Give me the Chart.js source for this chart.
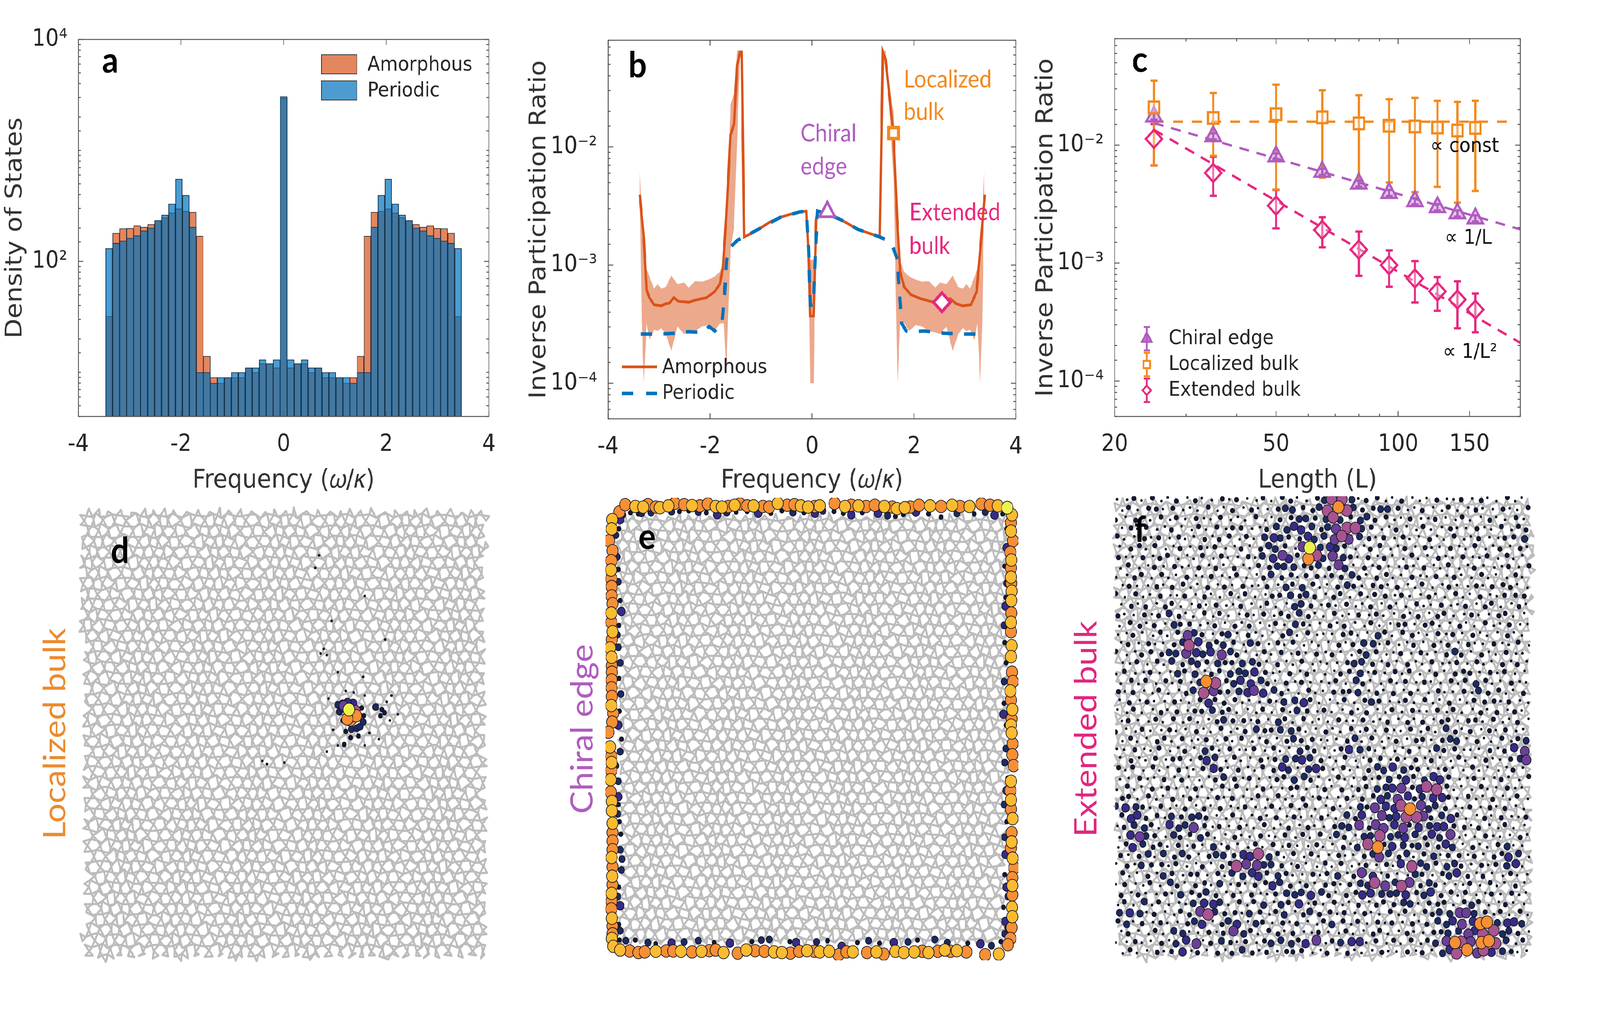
<!DOCTYPE html>
<html>
<head>
<meta charset="utf-8">
<style>
  html, body { margin: 0; background: #fff; overflow: hidden; }
  #sheet { position: absolute; left: 0; top: 0; width: 4533px; height: 2644px; transform-origin: 0 0; }
  canvas { position: absolute; }
</style>
<script src="https://cdn.jsdelivr.net/npm/chart.js@4/dist/chart.umd.js"></script>
</head>
<body>
<div id="sheet">
<canvas id="pa"></canvas><canvas id="pb"></canvas><canvas id="pc"></canvas>
<canvas id="pd"></canvas><canvas id="pe"></canvas><canvas id="pf"></canvas>
</div>
<script>
// the browser window can come out narrower than the 4533 px layout, keep the whole sheet in view
document.getElementById('sheet').style.transform = 'scaleX(' + Math.min(1, window.innerWidth / 4533) + ')';

// panel a: histogram
var binCenters = [-3.4,-3.264,-3.128,-2.992,-2.856,-2.72,-2.584,-2.448,-2.312,-2.176,-2.04,-1.904,-1.768,-1.632,-1.496,-1.36,-1.224,-1.088,-0.952,-0.816,-0.68,-0.544,-0.408,-0.272,-0.136,0,0.136,0.272,0.408,0.544,0.68,0.816,0.952,1.088,1.224,1.36,1.496,1.632,1.768,1.904,2.04,2.176,2.312,2.448,2.584,2.72,2.856,2.992,3.128,3.264,3.4];
var amorphousCounts = [32,180,198,199,210,204,216,234,249,274,298,283,278,169,14,9,8,9,9,9,11,10,12,12,11,2960,11,12,12,10,11,9,9,9,8,9,14,169,278,283,298,274,249,234,216,204,210,199,198,180,32];
var periodicCounts = [131,146,153,162,171,189,200,234,262,330,552,395,204,10,10,8,9,9,10,10,11,11,13,12,13,3055,13,12,13,11,11,10,10,9,9,8,10,10,204,395,552,330,262,234,200,189,171,162,153,146,131];

// panel b
var amorphFreq = [-3.38,-3.30,-3.245,-3.19,-3.10,-2.96,-2.87,-2.80,-2.71,-2.62,-2.51,-2.42,-2.29,-2.16,-2.07,-1.91,-1.81,-1.75,-1.68,-1.60,-1.53,-1.47,-1.41,-1.38,-1.33,-1.20,-1.01,-0.82,-0.62,-0.43,-0.24,-0.11,-0.06,-0.035,0.035,0.08,0.11,0.336,0.59,0.91,1.33,1.39,1.445,1.52,1.60,1.67,1.73,1.81,1.94,2.13,2.39,2.55,2.71,2.83,2.96,3.12,3.23,3.30,3.39];
var amorphIpr = [.00395,.00168,.000614,.00053,.000462,.000452,.000471,.000476,.00053,.000493,.00049,.000485,.000505,.00052,.00053,.000596,.00069,.00093,.00269,.01253,.0156,.0488,.0637,.0637,.00173,.00185,.00206,.00232,.00254,.00269,.00282,.00286,.00104,.000371,.000371,.00239,.00286,.00269,.00239,.002,.00173,.0637,.0548,.027,.01253,.00254,.000875,.000652,.000562,.00052,.000485,.000485,.00052,.000471,.000452,.000462,.000596,.00132,.00395];
var bandFreq = [-3.38,-3.34,-3.30,-3.245,-3.19,-3.10,-3.03,-2.96,-2.87,-2.76,-2.64,-2.51,-2.42,-2.29,-2.16,-2.03,-1.91,-1.81,-1.73,-1.68,-1.65,-1.60,-1.53,-1.47,-1.41,-1.38,-1.33,-1.20,-1.01,-0.82,-0.62,-0.43,-0.24,-0.11,-0.07,-0.035,0.035,0.07,0.11,0.336,0.59,0.91,1.33,1.39,1.445,1.52,1.60,1.68,1.73,1.81,1.91,2.03,2.16,2.29,2.42,2.51,2.64,2.76,2.87,2.96,3.03,3.10,3.19,3.245,3.30,3.34,3.38];
var bandHigh = [.00634,.00269,.00132,.00093,.0008,.000632,.00069,.000632,.000652,.000815,.00069,.000711,.000644,.000733,.000724,.000755,.0008,.000875,.00108,.00269,.00616,.0226,.0286,.0655,.0655,.0637,.00173,.00188,.00209,.00235,.00257,.00272,.00286,.00289,.00111,.00111,.00111,.00239,.00289,.00272,.00242,.00203,.00175,.0644,.0655,.0304,.0201,.00269,.00108,.000875,.0008,.000755,.000724,.000733,.000644,.000711,.00069,.000815,.000652,.000632,.00069,.000632,.0008,.00093,.00132,.00269,.00634];
var bandLow = [.00395,.000321,.000101,.000321,.000232,.000284,.000277,.000293,.000261,.000188,.000302,.000261,.000269,.000277,.000302,.000311,.000277,.000321,.000321,.000121,.000321,.00132,.00212,.0111,.0637,.0637,.00171,.00183,.00204,.0023,.00251,.00266,.00279,.00282,.00104,.0001,.0001,.00239,.00282,.00266,.00237,.00198,.00171,.0637,.0548,.0201,.00547,.000101,.000321,.000321,.000277,.000311,.000302,.000277,.000269,.000261,.000302,.000188,.000261,.000293,.000277,.000284,.000232,.000321,.000101,.000321,.00395];
var periodicFreq = [-3.36,-2.995,-2.675,-2.42,-2.16,-2.02,-1.905,-1.765,-1.715,-1.675,-1.585,-1.457,-1.33,-1.01,-0.62,-0.24,-0.11,-0.07,-0.03,0.03,0.07,0.11,0.336,0.59,0.91,1.33,1.457,1.585,1.675,1.714,1.76,1.85,1.97,2.2,2.6,3.0,3.35];
var periodicIpr = [.000261,.000261,.000265,.000273,.000269,.000302,.000277,.000321,.000578,.00111,.00144,.00163,.00173,.00206,.00254,.00282,.00286,.00141,.000458,.000458,.00141,.00286,.00269,.00239,.002,.00173,.00163,.00144,.00111,.000578,.000321,.000277,.000273,.000277,.000265,.000261,.000261];
var pickFreq = [0.30, 1.60, 2.55];
var pickIpr = [.00282, .0131, .000485];

// panel c
var lengths = [25,35,50,65,80,95,110,125,140,155];
var chiralIpr = [.0175,.0119,.00803,.00594,.00472,.00393,.00335,.00298,.00264,.00239];
var chiralLow = [.0165,.0112,.0076,.0056,.00445,.0037,.00315,.0028,.00248,.00225];
var chiralHigh = [.0186,.0126,.0085,.0063,.005,.00417,.00355,.00316,.0028,.00254];
var localizedIpr = [.0209,.017,.0183,.0172,.0153,.0146,.0144,.0141,.0133,.014];
var localizedLow = [.00673,.00813,.0042,.0053,.00445,.00483,.004,.00443,.00325,.00409];
var localizedHigh = [.0352,.0277,.0326,.0292,.0265,.0245,.0252,.0238,.0233,.0238];
var extendedIpr = [.0113,.00581,.00307,.00191,.0013,.00096,.00074,.000575,.00049,.000403];
var extendedLow = [.00673,.00372,.00197,.00136,.00078,.00063,.000463,.000394,.00028,.000259];
var extendedHigh = [.0151,.00798,.00417,.00245,.00185,.00128,.00104,.00076,.0007,.000552];
var fitLengths = [25, 200];
var fitConst = [.0158, .0158];
var fitConstLengths = [25, 190];
var fitInverse = [.0154, .00193];
var fitInverseSquare = [.0135, .000211];

var freqTicks = [-4, -2, 0, 2, 4];
var dosTicks = [100, 10000];
var dosTickLabels = ['10²', '10⁴'];
var iprTicks = [1e-4, 1e-3, 1e-2];
var iprTickLabels = ['10⁻⁴', '10⁻³', '10⁻²'];
var lengthTicks = [20,30,40,50,60,70,80,90,100,150,200];
var lengthTickLabels = ['20','','','50','','','','','100','150',''];

// panel d: visible sites around the localized state
var dX = [995,1000,1018,990,1015,978,1008,990,975,960,965,972,975,985,1003,1020,1030,1042,1040,1035,1080,1095,1108,1100,980,1000,1025,915,925,905,900,888,940,1045,1110,960,1040,985,1010,1045,1130,930,1115,1150,1125,945,1060,1090,960,1045,925,735,790,720];
var dY = [685,718,705,715,690,672,665,662,665,670,692,682,720,755,748,745,740,705,725,680,677,705,695,685,797,775,770,490,510,505,190,230,400,320,460,565,580,625,630,640,640,650,660,700,720,750,760,780,800,800,820,860,855,850];
var dAmp = [8,6,6,6,5,4,3,3,2,2,2,2,1,1,2,2,2,1,2,1,2,1,1,1,1,1,1,0,0,0,0,0,0,0,0,0,0,0,0,0,0,0,0,0,0,0,0,0,0,0,0,0,0,0];

// panel e: sites along the boundary
var eTopX = [230,248,280,305,320,345,358,385,405,435,460,485,510,535,555,575,595,612,635,655,685,705,732,762,785,805,828,850,865,912,945,965,988,1012,1040,1070,1095,1110,1135,1152,1180,1215,1250,1285,1310,1340,1378,1405,1430,1460];
var eTopY = [75,52,58,60,52,60,62,56,48,52,55,56,50,58,60,58,54,50,56,56,58,60,48,54,52,56,60,58,56,48,58,54,56,58,54,58,60,65,62,60,54,56,58,54,58,58,50,54,56,62];
var eTopAmp = '66776677667667767667667667767676766767766767676678';
var eLeftY = [100,130,168,200,232,262,290,315,345,370,400,430,460,485,512,542,570,590,615,640,668,697,722,750,783,830,860,880,905,935,975,1005,1035,1075,1105,1132,1160,1185,1215,1245,1272,1300,1325,1350,1380,1405,1430,1445,1470];
var eLeftX = [207,205,197,208,204,203,204,205,205,208,204,204,208,206,200,205,206,206,205,205,206,204,210,207,195,200,204,205,204,202,202,206,206,208,208,208,208,205,208,207,208,205,205,204,206,208,208,206,210];
var eLeftAmp = '7766676666767677666667666767676777666767676676677';
var eRightY = [85,110,137,168,205,230,255,285,305,330,360,400,430,460,505,540,590,620,650,680,710,740,760,785,820,855,890,940,970,1000,1030,1060,1105,1135,1155,1187,1218,1250,1275,1305,1345,1375,1410,1445,1465];
var eRightX = [1475,1472,1472,1478,1470,1473,1472,1472,1473,1474,1473,1473,1472,1472,1474,1472,1475,1478,1470,1472,1476,1474,1472,1474,1477,1476,1480,1472,1470,1472,1472,1477,1474,1474,1472,1477,1482,1476,1476,1476,1475,1476,1474,1470,1462];
var eRightAmp = '767667676776767766767677666767676767667677666';
var eBottomX = [232,262,290,310,345,378,400,425,460,490,515,535,560,605,632,660,690,720,745,772,800,825,848,865,895,925,950,970,1015,1045,1068,1105,1132,1165,1190,1210,1240,1262,1280,1300,1330,1390,1433];
var eBottomY = [1482,1485,1490,1488,1486,1485,1485,1486,1488,1486,1484,1482,1490,1492,1482,1484,1486,1488,1490,1492,1486,1484,1486,1488,1486,1497,1488,1488,1490,1488,1495,1486,1490,1488,1486,1490,1486,1482,1486,1484,1488,1497,1495];
var eBottomAmp = '7666766767667676677667677667676777676767667';
var eRingTopX = [240,265,290,300,330,365,395,420,450,480,505,540,570,600,635,670,710,745,780,815,850,875,910,940,965,1000,1050,1080,1105,1130,1170,1210,1250,1300,1355,1390,1420,1445];
var eRingTopY = [85,78,82,80,78,72,75,74,72,76,78,85,78,76,74,80,80,72,78,78,80,72,74,80,85,78,80,88,90,84,76,82,92,80,82,76,86,82];
var eRingTopAmp = '21122121121321131121321131321131121231';
var eRingLeftX = [232,228,218,222,226,226,232,236,228,222,226,232,228,234,230,226,236,232,218,226,226,226,224,230,234,232,238,236,228,224,232,228,232,230];
var eRingLeftY = [100,130,150,220,260,300,360,395,440,470,510,560,610,660,715,760,805,845,890,940,990,1015,1045,1070,1110,1160,1190,1225,1280,1310,1340,1400,1420,1450];
var eRingLeftAmp = '3122121312221213122231211222123121';
var eRingRightX = [1458,1458,1452,1458,1455,1455,1450,1452,1456,1450,1450,1448,1456,1456,1452,1462,1458,1450,1458,1452,1455,1452,1458,1462,1448,1454,1458,1452];
var eRingRightY = [130,190,250,305,350,378,440,495,560,620,690,725,760,835,880,930,970,1015,1070,1120,1175,1240,1280,1310,1345,1390,1410,1430];
var eRingRightAmp = '1312132112131221321231321312';
var eRingBottomX = [250,280,320,345,395,435,480,530,580,650,680,705,770,790,855,890,935,985,1020,1055,1100,1145,1175,1230,1270,1335,1375,1410,1440];
var eRingBottomY = [1452,1450,1458,1462,1460,1456,1452,1458,1460,1455,1450,1448,1455,1458,1456,1452,1470,1458,1452,1460,1458,1456,1450,1448,1458,1460,1462,1468,1455];
var eRingBottomAmp = '21213221312213213121321221321';

// panel f: site amplitude read on a 48 x 48 grid of the picture, 0 smallest, 8 brightest
var fAmplitude = [
'001010010100101001011001255201100100010010100100',
'010110100010010100122112565211221001001001001001',
'101001010100100010011221252122110010010010010010',
'010100100101011001223321245521001001001001001011',
'100101010010110102321132245421010100100100100112',
'011010010101001012210482321001100101001001001010',
'100101100010100102343165242101010010010010010100',
'010010100101010011222112142010100101001001000101',
'001101001001001001211011011210110010010100100010',
'010010110010101001021210012101101001001001011100',
'101001001010010100112121011010110100100100100111',
'010101100101001001002210101001010010010010110010',
'100101210010100101011210010010100101011001001100',
'011010211001010100102100101001001101100100100100',
'001001014210120100012010001100210110010101000100',
'010100125321210210101000010122010010101010010010',
'100111224323421001010101010012100101001210100100',
'001010212212112210100100001221010100100101001010',
'010010021201122231001010001120101010010111010100',
'010101010265123321010100010210010101001012100100',
'101001001254112343210010011120101010010010211001',
'010100100131110001022310001012100101001001110100',
'001001010112110001010210100101001010010100101010',
'010010101001211010210100010010010101011011010010',
'100100100100100121122100100101010010102101010100',
'010011010010101001012110001201001011012201001012',
'001001001021010010100211001321000010021100010134',
'010010110132010010122321001001101010100100100124',
'101010010013101001132023101001223211001001000010',
'001001010001210100112210010010121312331001001001',
'010010100100101001001100101011223413551000100100',
'110100101001010010100101001011324312331010010010',
'232101001010100100101010010021433564221001010100',
'133110212210010010101001002130423554123100101001',
'012210322410101001001010012241443413233110100100',
'034210211210010010010101021022522321324000100010',
'013211010102010010101001001025613212113201001200',
'101202121012213352101010010012421201201101011320',
'010211010010115442210100101001010352212210101230',
'100102101101022331210010120143010021012310100100',
'010010210110201011321010110122542541210001010010',
'101001021121010100122232101133222312311010010100',
'010201000233201012021301010010111220111012100100',
'232010011452110210120121101010010101122442101010',
'120101001230123021010100121010101010122343662332',
'010010220010142101101001001001100100112243552210',
'001001023401210101222134012330101010124654665201',
'010010130101012101011100101000100101023564532100'
];

var inkByAmp = ['#0b1026','#101a3a','#1d2a63','#352c88','#6a3f98','#a85490','#f78f35','#fbbb30','#eef04c'];
var sizeByAmp = [3.5,6,9,11,13,15,16,16,16.5];

function pairs(xs, ys) { return xs.map(function (x, i) { return { x: x, y: ys[i] }; }); }

function sites(xs, ys, amps) {
  return xs.map(function (x, i) {
    return { x: x, y: ys[i], a: Number(typeof amps === 'string' ? amps.charAt(i) : amps[i]) || 0 };
  });
}

function gridSites(rows) {
  var out = [];
  rows.forEach(function (row, r) {
    for (var c = 0; c < row.length; c++) {
      // cell centres, staggered so the grid does not read as rows
      var x = 180 + 27 * c + (r % 2) * 13 + 5 * Math.sin(c * 1.7 + r * 2.3);
      var y = 35 + 31 * r + 6 * Math.sin(c * 2.9 + r * 1.1);
      out.push({ x: x, y: y, a: Number(row.charAt(c)) });
    }
  });
  return out;
}

function place(id, left, top, w, h) {
  var el = document.getElementById(id);
  el.width = w; el.height = h;
  el.style.left = left + 'px'; el.style.top = top + 'px';
  el.style.width = w + 'px'; el.style.height = h + 'px';
  return el;
}

function forceWidth(w) { return function (s) { s.width = w; }; }
function forceHeight(h) { return function (s) { s.height = h; }; }

function tickText(list, labels) {
  return function (v) {
    for (var i = 0; i < list.length; i++) {
      if (Math.abs(v - list[i]) <= Math.abs(list[i]) * 1e-6) return labels[i];
    }
    return '';
  };
}

var inkAxis = '#262626';
var tickFont = { family: 'DejaVu Sans', size: 60 };
var titleFont = { family: 'DejaVu Sans', size: 66 };

// Box with inward ticks on all four sides
function framePlugin(xMajors, yMajors) {
  return {
    id: 'frame',
    afterDatasetsDraw: function (chart) {
      var c = chart.ctx, a = chart.chartArea, sx = chart.scales.x, sy = chart.scales.y;
      c.save();
      c.strokeStyle = '#555';
      c.lineWidth = 2.5;
      c.strokeRect(a.left, a.top, a.right - a.left, a.bottom - a.top);
      sx.ticks.forEach(function (t) {
        var px = sx.getPixelForValue(t.value);
        var len = xMajors.some(function (m) { return Math.abs(m - t.value) < 1e-6; }) ? 14 : 7;
        c.beginPath();
        c.moveTo(px, a.bottom); c.lineTo(px, a.bottom - len);
        c.moveTo(px, a.top); c.lineTo(px, a.top + len);
        c.stroke();
      });
      sy.ticks.forEach(function (t) {
        var py = sy.getPixelForValue(t.value);
        var len = yMajors.some(function (m) { return Math.abs(m - t.value) <= m * 1e-6; }) ? 14 : 7;
        c.beginPath();
        c.moveTo(a.left, py); c.lineTo(a.left + len, py);
        c.moveTo(a.right, py); c.lineTo(a.right - len, py);
        c.stroke();
      });
      c.restore();
    }
  };
}

// Error bars, taken from errLow / errHigh on the dataset
var errorBars = {
  id: 'errorBars',
  beforeDatasetsDraw: function (chart) {
    var c = chart.ctx, sx = chart.scales.x, sy = chart.scales.y;
    chart.data.datasets.forEach(function (ds) {
      if (!ds.errLow) return;
      c.save();
      c.strokeStyle = ds.borderColor;
      c.lineWidth = 6;
      ds.data.forEach(function (p, i) {
        var x = sx.getPixelForValue(p.x), lo = sy.getPixelForValue(ds.errLow[i]), hi = sy.getPixelForValue(ds.errHigh[i]);
        c.beginPath();
        c.moveTo(x, lo); c.lineTo(x, hi);
        c.moveTo(x - 10, lo); c.lineTo(x + 10, lo);
        c.moveTo(x - 10, hi); c.lineTo(x + 10, hi);
        c.stroke();
      });
      c.restore();
    });
  }
};

// Texts and legend keys, placed in page pixels
function notesPlugin(originX, originY, notes) {
  return {
    id: 'notes',
    afterDraw: function (chart) {
      var c = chart.ctx;
      c.save();
      c.translate(-originX, -originY);
      notes.forEach(function (n) {
        if (n.swatch) {
          c.fillStyle = n.swatch;
          c.strokeStyle = '#333';
          c.lineWidth = 2;
          c.fillRect(n.x, n.y, n.w, n.h);
          c.strokeRect(n.x, n.y, n.w, n.h);
        } else if (n.line) {
          c.strokeStyle = n.line;
          c.lineWidth = n.width;
          c.setLineDash(n.dash || []);
          c.beginPath();
          c.moveTo(n.x, n.y); c.lineTo(n.x + n.w, n.y);
          c.stroke();
          c.setLineDash([]);
        } else if (n.mark) {
          c.strokeStyle = n.color;
          c.lineWidth = 5;
          c.beginPath();
          c.moveTo(n.x, n.y - 30); c.lineTo(n.x, n.y + 30);
          c.moveTo(n.x - 9, n.y - 30); c.lineTo(n.x + 9, n.y - 30);
          c.moveTo(n.x - 9, n.y + 30); c.lineTo(n.x + 9, n.y + 30);
          c.stroke();
          c.fillStyle = n.fill;
          Chart.helpers.drawPoint(c, { pointStyle: n.mark, rotation: 0, radius: n.r, borderWidth: 5 }, n.x, n.y);
        } else {
          c.font = n.font;
          c.fillStyle = n.color;
          c.textBaseline = n.base || 'middle';
          c.textAlign = 'left';
          c.fillText(n.text, n.x, n.y);
        }
      });
      c.restore();
    }
  };
}

// Grey bond network behind the sites. This is only a backdrop texture, the picture's
// thousands of bonds are not read one by one: corner-sharing triangles with a slow wobble.
function meshPlugin(box) {
  return {
    id: 'mesh',
    beforeDatasetsDraw: function (chart) {
      var c = chart.ctx, sx = chart.scales.x, sy = chart.scales.y;
      var l = sx.getPixelForValue(box[0]), r = sx.getPixelForValue(box[1]);
      var t = sy.getPixelForValue(box[2]), b = sy.getPixelForValue(box[3]);
      var A = 31, H = A * 0.866;
      function pt(u, v) {
        var x = l + u * A + v * A / 2, y = t + v * H;
        return [x + 4 * Math.sin(x * 0.37 + y * 0.23) + 3 * Math.sin(x * 0.11 - y * 0.19),
                y + 4 * Math.sin(x * 0.29 - y * 0.41) + 3 * Math.sin(x * 0.17 + y * 0.13)];
      }
      function tri(p, q, s) {
        var cx = (p[0] + q[0] + s[0]) / 3, cy = (p[1] + q[1] + s[1]) / 3;
        if (cx < l || cx > r || cy < t || cy > b) return;
        c.moveTo(p[0], p[1]); c.lineTo(q[0], q[1]); c.lineTo(s[0], s[1]); c.closePath();
      }
      c.save();
      c.strokeStyle = '#bcbcbc';
      c.lineWidth = 5.5;
      c.lineJoin = 'round';
      c.beginPath();
      var rows = Math.ceil((b - t) / H) + 1, cols = Math.ceil((r - l) / A) + rows;
      for (var v = -1; v < rows; v++) {
        for (var u = -rows; u < cols; u++) {
          tri(pt(u + 0.5, v), pt(u + 0.5, v + 0.5), pt(u, v + 0.5));
          tri(pt(u + 0.5, v + 0.5), pt(u + 1, v + 0.5), pt(u + 0.5, v + 1));
        }
      }
      c.stroke();
      c.restore();
    }
  };
}

function baseOptions(pad) {
  return {
    responsive: false,
    devicePixelRatio: 1,
    animation: false,
    events: [],
    layout: { padding: pad },
    plugins: { legend: { display: false }, tooltip: { enabled: false } }
  };
}

function dataAxis(type, min, max, title, titlePad, tickList, labels, fit, tickPad) {
  return {
    type: type, min: min, max: max, offset: false,
    grid: { display: false }, border: { display: false },
    afterFit: fit,
    ticks: {
      autoSkip: false, maxRotation: 0, minRotation: 0, padding: tickPad,
      font: tickFont, color: inkAxis,
      callback: tickText(tickList, labels)
    },
    title: { display: true, text: title, font: titleFont, color: '#333', padding: { top: titlePad, bottom: 0 } }
  };
}

var noteFont = '62px Lato';
var letterFont = 'bold 92px Lato';
var legendFont = '52px "DejaVu Sans"';
var cPurple = '#b05cc0', cOrange = '#f28a1e', cPink = '#e6287f';
var freqTitle = 'Frequency (𝜔/𝜅)';

// a
var freqLabels = freqTicks.map(String);
var optA = baseOptions({ top: 61, right: 65 });
optA.scales = {
  x: dataAxis('linear', -4, 4, freqTitle, 26, freqTicks, freqLabels, forceHeight(204), 28),
  y: dataAxis('logarithmic', 4, 10000, 'Density of States', 4, dosTicks, dosTickLabels, forceWidth(222), 23)
};
optA.scales.x.ticks.stepSize = 2;
new Chart(place('pa', 0, 40, 1450, 1230), {
  type: 'bar',
  data: {
    datasets: [
      { label: 'Periodic', data: pairs(binCenters, periodicCounts), backgroundColor: 'rgba(0,114,189,0.7)', borderColor: '#1c2b3a', borderWidth: 1.5, grouped: false, categoryPercentage: 1, barPercentage: 1, order: 1 },
      { label: 'Amorphous', data: pairs(binCenters, amorphousCounts), backgroundColor: 'rgba(217,83,25,0.7)', borderColor: '#1c2b3a', borderWidth: 1.5, grouped: false, categoryPercentage: 1, barPercentage: 1, order: 2 }
    ]
  },
  options: optA,
  plugins: [framePlugin(freqTicks, dosTicks), notesPlugin(0, 40, [
    { text: 'a', x: 289, y: 186, font: letterFont, color: '#000', base: 'alphabetic' },
    { swatch: 'rgba(217,83,25,0.7)', x: 911, y: 140, w: 100, h: 49 },
    { swatch: 'rgba(0,114,189,0.7)', x: 911, y: 207, w: 100, h: 49 },
    { text: 'Amorphous', x: 1041, y: 167, font: legendFont, color: inkAxis },
    { text: 'Periodic', x: 1041, y: 233, font: legendFont, color: inkAxis }
  ])]
});

// b
var optB = baseOptions({ top: 63, right: 52 });
optB.scales = {
  x: dataAxis('linear', -4, 4, freqTitle, 23, freqTicks, freqLabels, forceHeight(198), 28),
  y: dataAxis('logarithmic', 5e-5, 0.08, 'Inverse Participation Ratio', 8, iprTicks, iprTickLabels, forceWidth(243), 23)
};
optB.scales.x.ticks.stepSize = 2;
new Chart(place('pb', 1480, 40, 1450, 1230), {
  type: 'line',
  data: {
    datasets: [
      { data: [pairs(pickFreq, pickIpr)[0]], showLine: false, pointStyle: 'triangle', pointRadius: 25, borderColor: cPurple, backgroundColor: '#fff', borderWidth: 7, order: 0 },
      { data: [pairs(pickFreq, pickIpr)[1]], showLine: false, pointStyle: 'rect', pointRadius: 20, borderColor: cOrange, backgroundColor: '#fff', borderWidth: 9, order: 0 },
      { data: [pairs(pickFreq, pickIpr)[2]], showLine: false, pointStyle: 'rectRot', pointRadius: 24, borderColor: cPink, backgroundColor: '#fff', borderWidth: 8, order: 0 },
      { label: 'Periodic', data: pairs(periodicFreq, periodicIpr), borderColor: '#0072bd', borderWidth: 9, borderDash: [32, 32], pointRadius: 0, fill: false, order: 1 },
      { label: 'Amorphous', data: pairs(amorphFreq, amorphIpr), borderColor: '#d95319', borderWidth: 7, pointRadius: 0, fill: false, order: 2 },
      { data: pairs(bandFreq, bandHigh), borderWidth: 0, pointRadius: 0, backgroundColor: 'rgba(217,83,25,0.5)', fill: '+1', order: 3 },
      { data: pairs(bandFreq, bandLow), borderWidth: 0, pointRadius: 0, fill: false, order: 4 }
    ]
  },
  options: optB,
  plugins: [framePlugin(freqTicks, iprTicks), notesPlugin(1480, 40, [
    { text: 'b', x: 1780, y: 198, font: letterFont, color: '#000', base: 'alphabetic' },
    { text: 'Localized', x: 2560, y: 204, font: noteFont, color: cOrange },
    { text: 'bulk', x: 2560, y: 287, font: noteFont, color: cOrange },
    { text: 'Chiral', x: 2268, y: 342, font: noteFont, color: cPurple },
    { text: 'edge', x: 2268, y: 427, font: noteFont, color: cPurple },
    { text: 'Extended', x: 2576, y: 544, font: noteFont, color: cPink },
    { text: 'bulk', x: 2576, y: 630, font: noteFont, color: cPink },
    { line: '#d95319', width: 7, x: 1762, y: 939, w: 100 },
    { line: '#0072bd', width: 9, dash: [32, 36], x: 1762, y: 1007, w: 100 },
    { text: 'Amorphous', x: 1876, y: 941, font: legendFont, color: inkAxis },
    { text: 'Periodic', x: 1876, y: 1007, font: legendFont, color: inkAxis }
  ])]
});

// c
var optC = baseOptions({ top: 57, right: 73 });
optC.scales = {
  x: dataAxis('logarithmic', 20, 200, 'Length (L)', 26, lengthTicks, lengthTickLabels, forceHeight(204), 28),
  y: dataAxis('logarithmic', 5e-5, 0.08, 'Inverse Participation Ratio', 4, iprTicks, iprTickLabels, forceWidth(238), 23)
};
optC.scales.x.afterBuildTicks = function (s) { s.ticks = lengthTicks.map(function (v) { return { value: v }; }); };
new Chart(place('pc', 2920, 40, 1460, 1230), {
  type: 'line',
  data: {
    datasets: [
      { label: 'Extended bulk', data: pairs(lengths, extendedIpr), errLow: extendedLow, errHigh: extendedHigh, showLine: false, pointStyle: 'rectRot', pointRadius: 23, borderColor: cPink, backgroundColor: 'rgba(255,255,255,0.35)', borderWidth: 6, order: 0 },
      { label: 'Localized bulk', data: pairs(lengths, localizedIpr), errLow: localizedLow, errHigh: localizedHigh, showLine: false, pointStyle: 'rect', pointRadius: 21, borderColor: cOrange, backgroundColor: 'rgba(255,255,255,0.35)', borderWidth: 6, order: 1 },
      { label: 'Chiral edge', data: pairs(lengths, chiralIpr), errLow: chiralLow, errHigh: chiralHigh, showLine: false, pointStyle: 'triangle', pointRadius: 25, borderColor: cPurple, backgroundColor: 'rgba(176,92,192,0.35)', borderWidth: 6, order: 2 },
      { data: pairs(fitConstLengths, fitConst), borderColor: cOrange, borderWidth: 6, borderDash: [28, 26], pointRadius: 0, order: 3 },
      { data: pairs(fitLengths, fitInverse), borderColor: cPurple, borderWidth: 6, borderDash: [28, 22], pointRadius: 0, order: 3 },
      { data: pairs(fitLengths, fitInverseSquare), borderColor: cPink, borderWidth: 6, borderDash: [28, 22], pointRadius: 0, order: 3 }
    ]
  },
  options: optC,
  plugins: [errorBars, framePlugin([20, 50, 100, 150], iprTicks), notesPlugin(2920, 40, [
    { text: 'c', x: 3207, y: 184, font: letterFont, color: '#000', base: 'alphabetic' },
    { text: '∝ const', x: 4052, y: 375, font: legendFont, color: '#111' },
    { text: '∝ 1/L', x: 4093, y: 610, font: legendFont, color: '#111' },
    { text: '∝ 1/L²', x: 4088, y: 902, font: legendFont, color: '#111' },
    { mark: 'triangle', r: 16, color: cPurple, fill: 'rgba(176,92,192,0.8)', x: 3249, y: 867 },
    { mark: 'rect', r: 13, color: cOrange, fill: '#fff', x: 3249, y: 933 },
    { mark: 'rectRot', r: 12, color: cPink, fill: '#fff', x: 3249, y: 999 },
    { text: 'Chiral edge', x: 3311, y: 867, font: legendFont, color: inkAxis },
    { text: 'Localized bulk', x: 3311, y: 933, font: legendFont, color: inkAxis },
    { text: 'Extended bulk', x: 3311, y: 999, font: legendFont, color: inkAxis }
  ])]
});

// d, e, f: sites on axes in picture units
function latticeChart(id, left, top, w, h, spec) {
  var opt = baseOptions(spec.pad);
  opt.scales = {
    x: { type: 'linear', display: false, min: spec.x[0], max: spec.x[1] },
    y: {
      type: 'linear', reverse: true, min: spec.y[0], max: spec.y[1],
      grid: { display: false }, border: { display: false },
      ticks: { display: false },
      afterFit: forceWidth(spec.yWidth),
      title: { display: true, text: spec.title, color: spec.color, font: { family: 'Lato', size: 88 }, padding: { top: spec.titlePad, bottom: 0 } }
    }
  };
  var sorted = spec.sites.slice().sort(function (p, q) { return p.a - q.a; });
  return new Chart(place(id, left, top, w, h), {
    type: 'scatter',
    data: {
      datasets: [{
        data: sorted,
        pointRadius: function (ctx) { return sizeByAmp[ctx.raw.a]; },
        pointBackgroundColor: function (ctx) { return inkByAmp[ctx.raw.a]; },
        pointBorderColor: '#15151f',
        pointBorderWidth: function (ctx) { return ctx.raw.a > 0 ? 1.8 : 0; }
      }]
    },
    options: opt,
    plugins: [meshPlugin(spec.box), notesPlugin(left, top, [
      { text: spec.letter, x: spec.lx, y: spec.ly, font: letterFont, color: '#000', base: 'alphabetic' }
    ])]
  });
}

latticeChart('pd', 100, 1270, 1300, 1210, {
  x: [150, 1430], y: [45, 1480], box: [150, 1430, 45, 1480],
  pad: { top: 36, right: 23, bottom: 30 }, yWidth: 134, titlePad: 4,
  title: 'Localized bulk', color: '#ed8a2e',
  sites: sites(dX, dY, dAmp), letter: 'd', lx: 314, ly: 1441
});

latticeChart('pe', 1570, 1250, 1340, 1230, {
  x: [185, 1495], y: [30, 1515], box: [225, 1460, 85, 1460],
  pad: { top: 24, right: 25, bottom: 22 }, yWidth: 145, titlePad: 28,
  title: 'Chiral edge', color: '#b05cc0',
  sites: sites(eRingTopX, eRingTopY, eRingTopAmp)
    .concat(sites(eRingLeftX, eRingLeftY, eRingLeftAmp))
    .concat(sites(eRingRightX, eRingRightY, eRingRightAmp))
    .concat(sites(eRingBottomX, eRingBottomY, eRingBottomAmp))
    .concat(sites(eTopX, eTopY, eTopAmp))
    .concat(sites(eLeftX, eLeftY, eLeftAmp))
    .concat(sites(eRightX, eRightY, eRightAmp))
    .concat(sites(eBottomX, eBottomY, eBottomAmp)),
  letter: 'e', lx: 1809, ly: 1405
});

latticeChart('pf', 3020, 1250, 1340, 1230, {
  x: [175, 1478], y: [25, 1525], box: [180, 1475, 35, 1510],
  pad: { top: 20, right: 12, bottom: 14 }, yWidth: 140, titlePad: 5,
  title: 'Extended bulk', color: '#e0277f',
  sites: gridSites(fAmplitude), letter: 'f', lx: 3214, ly: 1387
});
</script>
</body>
</html>
